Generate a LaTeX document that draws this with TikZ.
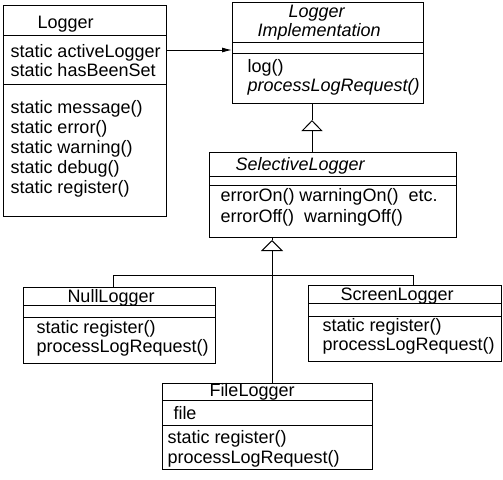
\documentclass[tikz,border=0pt]{standalone}
\usepackage{fontspec}
\setmainfont{Liberation Sans}
\usetikzlibrary{arrows.meta}

\tikzset{
  classbox/.style={draw, line width=1pt, anchor=north west, inner sep=0pt},
  txt/.style={anchor=base west, inner sep=0pt, font=\fontsize{18}{19}\selectfont},
  itxt/.style={txt, font=\fontsize{18}{19}\selectfont\itshape},
}

\begin{document}
\begin{tikzpicture}[x=1pt, y=-1pt, line width=1pt]
\useasboundingbox (0,0) rectangle (503,479);

% class boxes
\node[classbox, minimum width=163pt, minimum height=211pt] (logger) at (3,5) {};
\node[classbox, minimum width=191pt, minimum height=101pt] (impl) at (232,2) {};
\node[classbox, minimum width=247pt, minimum height=85pt] (selective) at (209,152) {};
\node[classbox, minimum width=192pt, minimum height=76pt] (nulllog) at (23,287) {};
\node[classbox, minimum width=193pt, minimum height=76pt] (screenlog) at (308,285) {};
\node[classbox, minimum width=210pt, minimum height=86pt] (filelog) at (162,383) {};

% compartment lines
\draw (logger.west |- 0,35) -- (logger.east |- 0,35);
\draw (logger.west |- 0,84) -- (logger.east |- 0,84);
\draw (impl.west |- 0,42) -- (impl.east |- 0,42);
\draw (impl.west |- 0,53) -- (impl.east |- 0,53);
\draw (selective.west |- 0,176) -- (selective.east |- 0,176);
\draw (selective.west |- 0,185) -- (selective.east |- 0,185);
\draw (nulllog.west |- 0,305) -- (nulllog.east |- 0,305);
\draw (nulllog.west |- 0,317) -- (nulllog.east |- 0,317);
\draw (screenlog.west |- 0,303) -- (screenlog.east |- 0,303);
\draw (screenlog.west |- 0,316) -- (screenlog.east |- 0,316);
\draw (filelog.west |- 0,400) -- (filelog.east |- 0,400);
\draw (filelog.west |- 0,425) -- (filelog.east |- 0,425);

% Logger
\node[txt] (lgT) at (37,28) {Logger};
\node[txt] (lgA) at (10,57) {static activeLogger};
\node[txt] (lgB) at (10,76) {static hasBeenSet};
\node[txt] (lgC) at (10,113) {static message()};
\node[txt] (lgD) at (10,133) {static error()};
\node[txt] (lgE) at (10,153) {static warning()};
\node[txt] (lgF) at (10,173) {static debug()};
\node[txt] (lgG) at (10,193) {static register()};

% Logger Implementation
\node[itxt] (imT1) at (288,17) {Logger};
\node[itxt] (imT2) at (257,36) {Implementation};
\node[txt] (imA) at (247,72) {log()};
\node[itxt] (imB) at (247,91) {processLogRequest()};

% SelectiveLogger
\node[itxt] (slT) at (235,170) {SelectiveLogger};
\node[txt] (slA) at (220,201) {errorOn() warningOn()\ \ etc.};
\node[txt] (slB) at (220,222) {errorOff()\ \ warningOff()};

% NullLogger
\node[txt] (nlT) at (67,302) {NullLogger};
\node[txt] (nlA) at (36,333) {static register()};
\node[txt] (nlB) at (36,352) {processLogRequest()};

% ScreenLogger
\node[txt] (scT) at (340,300) {ScreenLogger};
\node[txt] (scA) at (322,331) {static register()};
\node[txt] (scB) at (322,350) {processLogRequest()};

% FileLogger
\node[txt] (flT) at (209,396) {FileLogger};
\node[txt] (flA) at (173,419) {file};
\node[txt] (flB) at (167,443) {static register()};
\node[txt] (flC) at (167,463) {processLogRequest()};

% association
\draw[-{Latex[length=10pt,width=5pt]}] (logger.east |- 0,50) -- (impl.west |- 0,50);

% generalisations
\coordinate (tip1) at (312,120);
\coordinate (tip2) at (272,240);
\draw (impl.south -| tip1) -- (tip1);
\draw[-{Triangle[open,length=11pt,width=21pt]}] (selective.north -| tip1) -- (tip1);
\draw (selective.south -| tip2) -- (tip2);
\draw[-{Triangle[open,length=11pt,width=22pt]}] (filelog.north -| tip2) -- (tip2);

\coordinate (busl) at (113,275);
\coordinate (busr) at (413,275);
\draw (nulllog.north -| busl) -- (busl) -- (busr) -- (screenlog.north -| busr);

\end{tikzpicture}
\end{document}
